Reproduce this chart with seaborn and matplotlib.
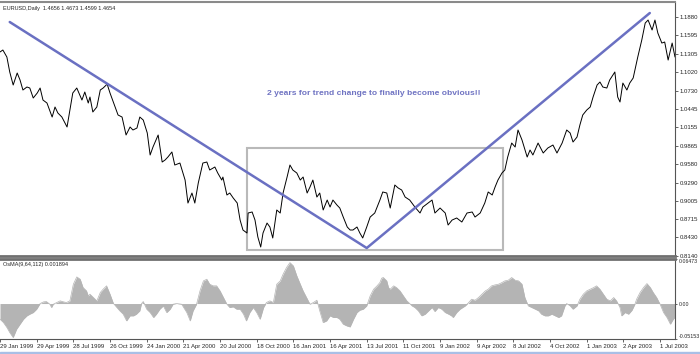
import matplotlib
matplotlib.use('Agg')
import matplotlib.pyplot as plt
import matplotlib.patches as mpatches
import seaborn as sns

# EURUSD daily close (x = bar number from the first visible bar)
price_bar = [0, 5, 12, 17, 23, 30, 35, 40, 47, 52, 58, 65, 70, 75, 82, 91, 96, 101, 108, 117,
             122, 127, 134, 143, 148, 154, 157, 162, 169, 175, 180, 187, 192, 201, 206, 213, 220, 227, 232, 239,
             244, 250, 257, 262, 267, 276, 283, 288, 293, 300, 305, 314, 323, 328, 335, 340, 346, 354, 361, 366,
             375, 380, 387, 389, 396, 401, 407, 414, 419, 424, 431, 433, 440, 445, 450, 455, 459, 466, 471, 476,
             483, 489, 494, 501, 506, 511, 518, 524, 529, 536, 541, 546, 553, 558, 564, 571, 576, 581, 588, 593,
             599, 606, 611, 616, 623, 628, 633, 640, 646, 654, 663, 668, 675, 681, 689, 695, 701, 707, 715, 724,
             733, 738, 747, 754, 759, 768, 777, 782, 789, 797, 806, 815, 824, 829, 838, 846, 852, 859, 864, 869,
             876, 881, 886, 893, 899, 904, 911, 920, 925, 930, 939, 948, 956, 965, 972, 981, 989, 995, 1000, 1007,
             1012, 1017, 1024, 1030, 1035, 1042, 1047, 1052, 1059, 1064, 1073, 1078, 1082, 1087, 1094, 1099, 1105, 1108, 1113, 1120,
             1126, 1131, 1138, 1143, 1148, 1155, 1160, 1166, 1173, 1178]
price_close = [1.1333, 1.1364, 1.1254, 1.1020, 1.0816, 1.1004, 1.0894, 1.0738, 1.0785, 1.0769, 1.0613, 1.0691, 1.0769, 1.0581, 1.0534, 1.0315, 1.0472, 1.0378, 1.0315, 1.0159,
               1.0425, 1.0691, 1.0769, 1.0581, 1.0707, 1.0534, 1.0628, 1.0394, 1.0472, 1.0738, 1.0769, 1.0830, 1.0691, 1.0472, 1.0347, 1.0315, 1.0034, 1.0159, 1.0112, 1.0143,
               1.0315, 1.0268, 1.0065, 0.9721, 0.9846, 1.0034, 0.9611, 0.9642, 0.9689, 0.9768, 0.9564, 0.9595, 0.9329, 0.8969, 0.9126, 0.8969, 0.9282, 0.9595, 0.9611, 0.9486,
               0.9533, 0.9439, 0.9329, 0.9376, 0.9095, 0.9126, 0.9048, 0.8969, 0.8703, 0.8547, 0.8500, 0.8813, 0.8829, 0.8703, 0.8437, 0.8281, 0.8500, 0.8656, 0.8594, 0.8422,
               0.8860, 0.8813, 0.9126, 0.9376, 0.9564, 0.9486, 0.9439, 0.9329, 0.9376, 0.9126, 0.9220, 0.9329, 0.9063, 0.9126, 0.8860, 0.9016, 0.8907, 0.9016, 0.8938, 0.8891,
               0.8750, 0.8594, 0.8547, 0.8547, 0.8594, 0.8500, 0.8422, 0.8594, 0.8750, 0.8813, 0.9016, 0.9142, 0.9126, 0.8891, 0.9251, 0.9204, 0.9173, 0.9063, 0.9016, 0.8907,
               0.8813, 0.8907, 0.8969, 0.9016, 0.8813, 0.8891, 0.8813, 0.8625, 0.8703, 0.8735, 0.8672, 0.8813, 0.8829, 0.8750, 0.8813, 0.8969, 0.9142, 0.9095, 0.9220, 0.9329,
               0.9439, 0.9486, 0.9689, 0.9908, 0.9846, 1.0112, 0.9955, 0.9689, 0.9799, 0.9721, 0.9908, 0.9752, 0.9830, 0.9877, 0.9752, 0.9908, 1.0112, 1.0065, 0.9924, 1.0002,
               1.0190, 1.0347, 1.0425, 1.0472, 1.0628, 1.0816, 1.0863, 1.0785, 1.0769, 1.0894, 1.1020, 1.0628, 1.0550, 1.0847, 1.0738, 1.0847, 1.0926, 1.1051, 1.1254, 1.1520,
               1.1786, 1.1833, 1.1677, 1.1833, 1.1630, 1.1473, 1.1489, 1.1207, 1.1473, 1.1254]

# hand drawn trend lines and box
trend_bar = [17, 640, 1134]
trend_price = [1.1802, 0.8265, 1.1943]
box_bar = [431, 878]
box_price = [0.8234, 0.9830]

# OsMA(9,64,112) histogram
osma_bar = [0, 6, 12, 17, 23, 29, 35, 41, 47, 52, 58, 64, 70, 76, 81, 87, 90, 93, 99, 105,
            111, 116, 122, 128, 134, 140, 145, 151, 154, 157, 163, 169, 175, 180, 186, 192, 198, 204, 209, 215,
            221, 227, 233, 238, 244, 247, 250, 256, 262, 268, 273, 279, 285, 291, 297, 302, 308, 317, 326, 332,
            337, 343, 349, 355, 361, 366, 372, 378, 384, 390, 396, 401, 407, 413, 419, 425, 430, 436, 442, 448,
            454, 460, 465, 471, 477, 483, 489, 494, 500, 506, 512, 518, 524, 529, 535, 541, 547, 553, 558, 564,
            570, 576, 582, 588, 593, 599, 605, 611, 617, 623, 628, 634, 640, 646, 652, 658, 663, 666, 669, 675,
            678, 681, 687, 692, 698, 704, 710, 715, 719, 724, 730, 736, 742, 748, 754, 759, 765, 771, 777, 783,
            788, 791, 797, 803, 812, 818, 823, 829, 835, 841, 847, 852, 858, 864, 870, 876, 881, 887, 893, 899,
            905, 911, 916, 922, 928, 934, 940, 945, 951, 957, 963, 969, 975, 980, 986, 989, 995, 1000, 1007, 1012,
            1018, 1024, 1030, 1036, 1041, 1047, 1053, 1059, 1065, 1071, 1076, 1082, 1085, 1091, 1097, 1103, 1108, 1111, 1117, 1123,
            1129, 1135, 1140, 1146, 1152, 1158, 1164, 1170, 1175, 1178]
osma_val = [-0.0228, -0.0276, -0.0348, -0.0421, -0.0494, -0.0373, -0.0300, -0.0228, -0.0179, -0.0155, -0.0131, -0.0082, 0.0, 0.0024, 0.0029, -0.0010, -0.0058, -0.0010, 0.0015, 0.0039,
            0.0024, 0.0015, 0.0039, 0.0281, 0.0387, 0.0353, 0.0232, 0.0184, 0.0111, 0.0136, 0.0087, 0.0039, 0.0160, 0.0208, 0.0257, 0.0136, 0.0, -0.0058, -0.0106, -0.0155,
            -0.0252, -0.0179, -0.0179, -0.0155, -0.0106, 0.0, 0.0029, -0.0082, -0.0131, -0.0203, -0.0155, -0.0082, -0.0034, -0.0131, -0.0082, -0.0010, 0.0, -0.0010, -0.0131, -0.0252,
            -0.0106, -0.0010, 0.0184, 0.0329, 0.0353, 0.0281, 0.0257, 0.0257, 0.0184, 0.0087, -0.0010, -0.0058, -0.0048, -0.0082, -0.0082, -0.0155, -0.0252, -0.0131, -0.0058, -0.0131,
            -0.0228, -0.0058, 0.0015, 0.0039, 0.0015, 0.0281, 0.0329, 0.0426, 0.0523, 0.0595, 0.0547, 0.0402, 0.0281, 0.0184, 0.0087, -0.0010, 0.0015, 0.0048, -0.0106, -0.0276,
            -0.0252, -0.0179, -0.0203, -0.0203, -0.0228, -0.0300, -0.0324, -0.0340, -0.0228, -0.0131, -0.0097, -0.0082, -0.0034, 0.0111, 0.0208, 0.0257, 0.0305, 0.0368, 0.0378, 0.0329,
            0.0232, 0.0208, 0.0257, 0.0232, 0.0184, 0.0111, 0.0039, 0.0, -0.0034, -0.0058, -0.0106, -0.0179, -0.0155, -0.0106, -0.0058, -0.0116, -0.0058, -0.0082, -0.0131, -0.0155,
            -0.0179, -0.0203, -0.0131, -0.0082, -0.0034, 0.0015, 0.0063, 0.0048, 0.0087, 0.0136, 0.0184, 0.0208, 0.0257, 0.0271, 0.0281, 0.0305, 0.0329, 0.0339, 0.0378, 0.0339,
            0.0329, 0.0281, 0.0087, -0.0034, -0.0058, -0.0082, -0.0106, -0.0155, -0.0179, -0.0179, -0.0155, -0.0179, -0.0203, -0.0179, -0.0034, 0.0, -0.0034, -0.0082, -0.0034, 0.0063,
            0.0136, 0.0184, 0.0208, 0.0232, 0.0257, 0.0208, 0.0136, 0.0063, 0.0039, 0.0087, 0.0039, -0.0058, -0.0179, -0.0131, -0.0155, -0.0097, -0.0010, 0.0063, 0.0160, 0.0232,
            0.0290, 0.0232, 0.0160, 0.0087, -0.0010, -0.0131, -0.0203, -0.0300, -0.0228, -0.0200]

date_bars = [0, 64, 128, 192, 256, 320, 384, 448, 512, 576, 640, 704, 768, 832, 896, 960, 1024, 1088, 1152]
date_labels = ['29 Jan 1999', '29 Apr 1999', '28 Jul 1999', '26 Oct 1999', '24 Jan 2000', '21 Apr 2000',
               '20 Jul 2000', '18 Oct 2000', '16 Jan 2001', '16 Apr 2001', '13 Jul 2001', '11 Oct 2001',
               '9 Jan 2002', '9 Apr 2002', '8 Jul 2002', '4 Oct 2002', '1 Jan 2003', '2 Apr 2003', '1 Jul 2003']
price_ticks = [1.1880, 1.1595, 1.1305, 1.1020, 1.0730, 1.0445, 1.0155, 0.9865, 0.9580, 0.9290,
               0.9005, 0.8715, 0.8430, 0.8140]
osma_ticks = [0.06473, 0.0, -0.05153]
osma_tick_labels = ['0.06473', '0.00', '-0.05153']

sns.set_style('white')
plt.rcParams['font.family'] = ['Liberation Sans', 'DejaVu Sans']

fig = plt.figure(figsize=(7, 3.54), dpi=100)
ax = fig.add_axes([0, 0.2768, 0.9643, 0.7175])
ax2 = fig.add_axes([0, 0.0424, 0.9643, 0.226])

# price panel
sns.lineplot(x=price_bar, y=price_close, ax=ax, color='black', lw=0.7)
sns.lineplot(x=trend_bar, y=trend_price, ax=ax, color='#6a70c2', lw=1.8)
ax.add_patch(mpatches.Rectangle((box_bar[0], box_price[0]), box_bar[1] - box_bar[0],
                                box_price[1] - box_price[0], fill=False, ec='#b9b9b9', lw=1.5))
ax.text(653, 1.0690, '2 years for trend change to finally become obvious!!', color='#6f73c2',
        fontsize=6.1, fontweight='bold', ha='center', va='center')
ax.text(0.004, 0.985, 'EURUSD,Daily  1.4656 1.4673 1.4599 1.4654', transform=ax.transAxes,
        fontsize=4, va='top', ha='left')

ax.set_xlim(0, 1178)
ax.set_ylim(0.8140, 1.2115)
ax.yaxis.tick_right()
ax.set_yticks(price_ticks)
ax.set_yticklabels(['%.4f' % v for v in price_ticks])
ax.tick_params(axis='y', labelsize=4.3, length=2, width=0.5, pad=1.5, right=True)
ax.tick_params(axis='x', bottom=False, labelbottom=False)
ax.set_xlabel('')
ax.set_ylabel('')

# oscillator panel
ax2.fill_between(osma_bar, osma_val, 0, color='#b4b4b4', lw=0)
sns.lineplot(x=osma_bar, y=osma_val, ax=ax2, color='#b4b4b4', lw=0.5)
ax2.text(0.004, 0.96, 'OsMA(9,64,112) 0.001894', transform=ax2.transAxes,
         fontsize=4, va='top', ha='left')
ax2.set_xlim(0, 1178)
ax2.set_ylim(-0.05153, 0.06473)
ax2.yaxis.tick_right()
ax2.set_yticks(osma_ticks)
ax2.set_yticklabels(osma_tick_labels)
ax2.tick_params(axis='y', labelsize=3.8, length=1.5, width=0.5, pad=1, right=True)
lbls = ax2.get_yticklabels()
lbls[0].set_verticalalignment('top')
lbls[-1].set_verticalalignment('bottom')
ax2.set_xticks(date_bars)
ax2.set_xticklabels(date_labels, ha='left')
ax2.tick_params(axis='x', labelsize=4.3, length=2, width=0.5, pad=1.5, bottom=True)
ax2.set_xlabel('')
ax2.set_ylabel('')

for a in (ax, ax2):
    a.spines['left'].set_visible(False)
    a.spines['right'].set_color('#555555')
    a.spines['right'].set_linewidth(0.8)
ax.spines['top'].set_color('#8a8a8a')
ax.spines['top'].set_linewidth(1.5)
ax.spines['bottom'].set_color('#707070')
ax.spines['bottom'].set_linewidth(2)
ax2.spines['top'].set_color('#707070')
ax2.spines['top'].set_linewidth(2)
ax2.spines['bottom'].set_color('#555555')
ax2.spines['bottom'].set_linewidth(0.8)

# window tab strip at the very bottom
fig.patches.append(mpatches.Rectangle((0, 0), 1, 2 / 354, transform=fig.transFigure,
                                      color='#a9bfe6', zorder=0))

fig.savefig('out.png', dpi=100)
